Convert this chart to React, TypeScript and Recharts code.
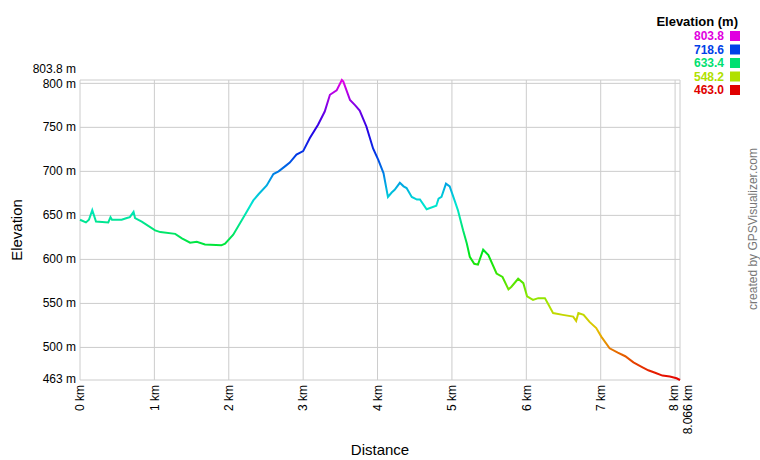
import { LineChart, Line, XAxis, YAxis, CartesianGrid } from "recharts";

const KM = [
  0, 0.08, 0.12, 0.165, 0.215, 0.38, 0.41, 0.43, 0.56, 0.63, 0.67, 0.72, 0.74,
  0.83, 1.01, 1.08, 1.28, 1.37, 1.48, 1.57, 1.68, 1.9, 1.95, 2.06, 2.22, 2.33,
  2.4, 2.51, 2.6, 2.67, 2.76, 2.82, 2.91, 3.0, 3.09, 3.2, 3.29, 3.36, 3.45,
  3.52, 3.54, 3.63, 3.7, 3.76, 3.85, 3.94, 4.01, 4.08, 4.14, 4.19, 4.23, 4.3,
  4.35, 4.39, 4.46, 4.53, 4.57, 4.62, 4.66, 4.79, 4.82, 4.86, 4.92, 4.97,
  5.04, 5.08, 5.15, 5.2, 5.24, 5.3, 5.35, 5.42, 5.49, 5.6, 5.68, 5.76, 5.8,
  5.89, 5.96, 6.01, 6.09, 6.16, 6.25, 6.29, 6.36, 6.49, 6.63, 6.67, 6.7, 6.77,
  6.85, 6.94, 7.01, 7.12, 7.23, 7.33, 7.44, 7.55, 7.64, 7.74, 7.83, 7.93,
  8.02, 8.066,
];

const ELEV = [
  645, 642, 645, 656, 643, 642, 648, 645, 645, 647, 648, 654, 647, 643, 633,
  631, 629, 624, 619, 620, 617, 616, 618, 628, 651, 667, 674, 684, 697, 700,
  706, 710, 719, 723, 738, 753, 768, 787, 792, 803.8, 802, 781, 775, 769, 751,
  726, 713, 698, 671, 676, 679, 687, 683, 681, 671, 668, 668, 662, 657, 661,
  669, 671, 686, 683, 666, 656, 633, 618, 603, 595, 594, 611, 605, 584, 580,
  566, 569, 578, 573, 558, 554, 556, 556, 550, 539, 537, 535, 530, 539, 537,
  529, 522, 512, 499, 494, 490, 483, 478, 474, 471, 468, 467, 465, 463,
];

const X_TICKS = [0, 1, 2, 3, 4, 5, 6, 7, 8, 8.066];
const Y_TICKS = [463, 500, 550, 600, 650, 700, 750, 800, 803.8];
const LEGEND_VALUES = ["803.8", "718.6", "633.4", "548.2", "463.0"];
const LEGEND_COLORS = ["#e000e0", "#0040e8", "#00e070", "#b0e000", "#e00000"];

const data = KM.map((km, i) => ({ km, elev: ELEV[i] }));

const FONT = "'Liberation Sans', Arial, sans-serif";

// hue steps from magenta (top) to red (bottom)
const gradStops = Array.from({ length: 13 }, (_, i) => {
  const t = i / 12;
  return { offset: t, color: `hsl(${300 - 300 * t}, 100%, 45%)` };
});

function XTick({ x, y, payload }: any) {
  const v = payload.value;
  const shift = v === 8.066 ? 8 : v === 8 ? -1 : 0;
  const label = v === 8.066 ? "8.066 km" : `${v} km`;
  return (
    <text
      x={x + shift}
      y={y}
      transform={`rotate(-90, ${x + shift}, ${y})`}
      textAnchor="end"
      dy="0.35em"
      fontSize={12}
      fontFamily={FONT}
      fill="#000"
    >
      {label}
    </text>
  );
}

function YTick({ x, y, payload }: any) {
  const v = payload.value;
  const shift = v === 803.8 ? -11 : v === 800 ? 0 : -1;
  return (
    <text
      x={x}
      y={y + shift}
      textAnchor="end"
      dy="0.35em"
      fontSize={12}
      fontFamily={FONT}
      fill="#000"
    >
      {`${v} m`}
    </text>
  );
}

export default function App() {
  return (
    <div
      style={{
        position: "absolute",
        left: 0,
        top: 0,
        width: 760,
        height: 460,
        background: "#fff",
      }}
    >
      <LineChart
        width={760}
        height={460}
        data={data}
        margin={{ top: 80, right: 80, bottom: 0, left: 0 }}
      >
        <defs>
          <linearGradient id="elevGrad" x1="0" y1="0" x2="0" y2="1">
            {gradStops.map((s) => (
              <stop key={s.offset} offset={s.offset} stopColor={s.color} />
            ))}
          </linearGradient>
        </defs>
        <CartesianGrid stroke="#cccccc" strokeWidth={1} />
        <XAxis
          dataKey="km"
          type="number"
          domain={[0, 8.066]}
          ticks={X_TICKS}
          interval={0}
          height={80}
          axisLine={false}
          tickLine={false}
          tickSize={0}
          tickMargin={5}
          tick={<XTick />}
        />
        <YAxis
          type="number"
          domain={[463, 803.8]}
          ticks={Y_TICKS}
          interval={0}
          width={80}
          axisLine={false}
          tickLine={false}
          tickSize={0}
          tickMargin={4}
          tick={<YTick />}
        />
        <Line
          type="linear"
          dataKey="elev"
          stroke="url(#elevGrad)"
          strokeWidth={2}
          dot={false}
          activeDot={false}
          isAnimationActive={false}
        />
      </LineChart>

      <svg
        width={760}
        height={460}
        style={{ position: "absolute", left: 0, top: 0, pointerEvents: "none" }}
        fontFamily={FONT}
      >
        <text x={738} y={26} textAnchor="end" fontSize={13} fontWeight="bold" fill="#000">
          Elevation (m)
        </text>
        {LEGEND_VALUES.map((v, i) => (
          <g key={v}>
            <text
              x={724}
              y={40 + 13.5 * i}
              textAnchor="end"
              fontSize={12}
              fontWeight="bold"
              fill={LEGEND_COLORS[i]}
            >
              {v}
            </text>
            <rect x={730} y={31 + 13.5 * i} width={10} height={10} fill={LEGEND_COLORS[i]} />
          </g>
        ))}
        <text
          x={22}
          y={230}
          transform="rotate(-90, 22, 230)"
          textAnchor="middle"
          fontSize={15}
          fill="#000"
        >
          Elevation
        </text>
        <text x={380} y={455} textAnchor="middle" fontSize={15} fill="#000">
          Distance
        </text>
        <text
          x={757}
          y={229}
          transform="rotate(-90, 757, 229)"
          textAnchor="middle"
          fontSize={12}
          fill="#777"
        >
          created by GPSVisualizer.com
        </text>
      </svg>
    </div>
  );
}
